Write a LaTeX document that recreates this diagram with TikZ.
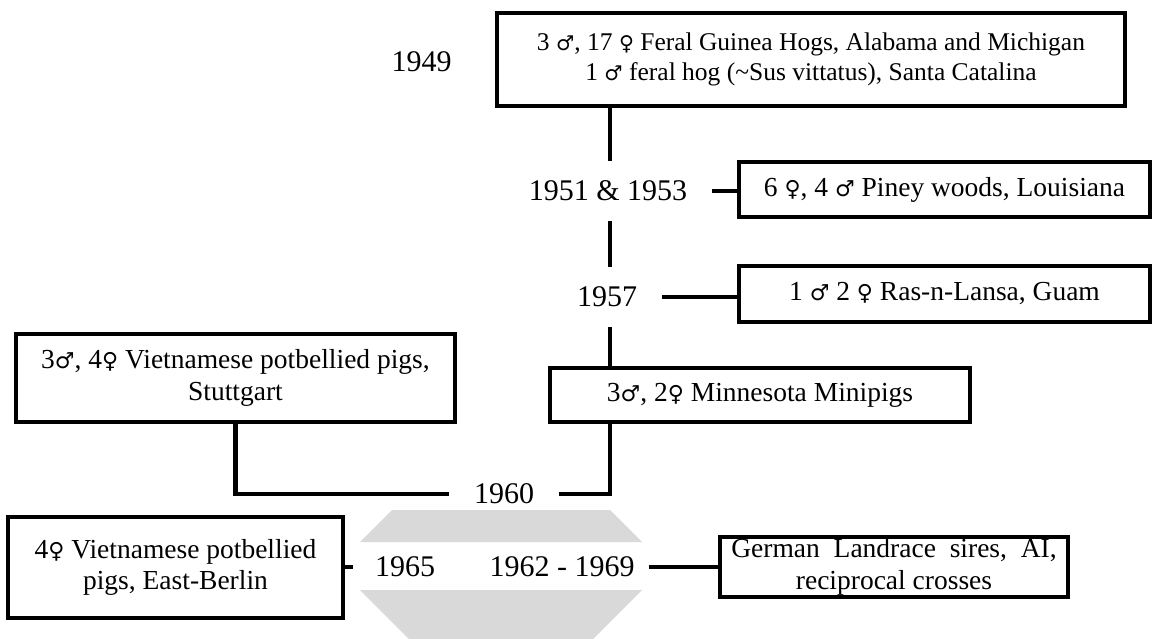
\documentclass[tikz,border=0pt]{standalone}
\usepackage{fontspec}
\setmainfont{Liberation Serif}
\newfontfamily\symf{DejaVu Sans}[Scale=0.8]
\newcommand\symM{{\symf ♂}}
\newcommand\symF{{\symf ♀}}
\definecolor{barGray}{HTML}{D9D9D9}
\begin{document}
\begin{tikzpicture}[x=1pt,y=-1pt,
  every node/.style={font=\fontsize{27.5}{31.5}\selectfont},
  box/.style={draw, line width=4.5pt, align=center, inner sep=0pt, line join=miter},
  yr/.style={inner xsep=25pt, inner ysep=20pt, font=\fontsize{30}{34}\selectfont},
  conn/.style={line width=4.5pt, line join=miter},
  bar/.style={fill=barGray}]
\useasboundingbox (0,0) rectangle (1158,639);

% gray bars
\fill[bar] (392,510) -- (610,510) -- (642,542) -- (360,542) -- cycle;
\fill[bar] (360,590) -- (642,590) -- (593,639) -- (409,639) -- cycle;

\coordinate (spine) at (610,0);

% boxes
\node[box, minimum width=628, minimum height=93, font=\fontsize{25.5}{30}\selectfont] (top) at (811,59.5)
  {3 \symM, 17 \symF{} Feral Guinea Hogs, Alabama and Michigan\\ 1 \symM{} feral hog (\textasciitilde Sus vittatus), Santa Catalina};
\node[box, minimum width=411, minimum height=55] (piney) at (944.5,189.5)
  {6 \symF, 4 \symM{} Piney woods, Louisiana};
\node[box, minimum width=411, minimum height=56] (ras) at (944.5,294)
  {1 \symM{} 2 \symF{} Ras-n-Lansa, Guam};
\node[box, minimum width=420, minimum height=54] (minn) at (760,395)
  {3\symM, 2\symF{} Minnesota Minipigs};
\node[box, minimum width=439, minimum height=88] (stutt) at (235.5,378)
  {3\symM, 4\symF{} Vietnamese potbellied pigs,\\ Stuttgart};
\node[box, minimum width=335, minimum height=101] (eb) at (175.5,567.5)
  {4\symF{} Vietnamese potbellied\\ pigs, East-Berlin};
\node[box, minimum width=348, minimum height=60] (german) at (894,567)
  {German~ Landrace~ sires,~ AI,\\ reciprocal crosses};

% year labels
\node[yr] (y49) at (421.5,62) {1949};
\node[yr] (y51) at (608,191) {1951 \& 1953};
\node[yr] (y57) at (607,297) {1957};
\node[yr] (y60) at (504,494) {1960};
\node[yr, inner xsep=22pt] (y65) at (405,567) {1965};
\node[yr, inner xsep=14pt] (y6269) at (562,567) {1962 - 1969};

% connectors
\draw[conn] (spine |- top.south) -- (spine |- y51.north);
\draw[conn] (spine |- y51.south) -- (spine |- y57.north);
\draw[conn] (spine |- y57.south) -- (spine |- minn.north);
\draw[conn] (y51.east) -- (piney.west |- y51.east);
\draw[conn] (y57.east) -- (ras.west |- y57.east);
\draw[conn] (spine |- minn.south) |- (y60.east);
\draw[conn] (stutt.south) |- (y60.west);
\draw[conn] (eb.east |- y65.west) -- (y65.west);
\draw[conn] (y6269.east) -- (german.west |- y6269.east);
\end{tikzpicture}
\end{document}
